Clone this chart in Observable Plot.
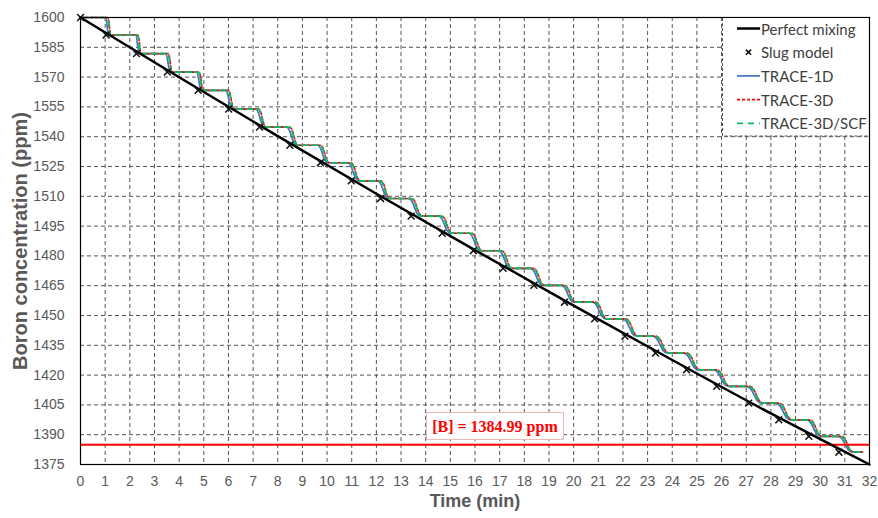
<!DOCTYPE html>
<html>
<head>
<meta charset="utf-8">
<script src="https://cdn.jsdelivr.net/npm/d3@7"></script>
<script src="https://cdn.jsdelivr.net/npm/@observablehq/plot@0.6"></script>
<style>
  html, body { margin: 0; padding: 0; background: white; }
  #wrap { position: relative; width: 878px; height: 518px; overflow: hidden; }
</style>
</head>
<body>
<div id="wrap"></div>
<script>
// ---------- data ----------
const xTicks = [0,1,2,3,4,5,6,7,8,9,10,11,12,13,14,15,16,17,18,19,20,21,22,23,24,25,26,27,28,29,30,31,32];
const yTicks = [1375,1390,1405,1420,1435,1450,1465,1480,1495,1510,1525,1540,1555,1570,1585,1600];

// Perfect mixing
const mixTime  = [0, 4, 8, 12, 16, 20, 24, 28, 32];
const mixBoron = [1600, 1569.9, 1540.3, 1511.3, 1482.9, 1455.0, 1427.6, 1400.7, 1375.0];

// Slug model
const slugTime  = [0, 1.04, 2.27, 3.52, 4.77, 6.01, 7.26, 8.49, 9.73, 10.98, 12.17, 13.41, 14.67, 15.93, 17.14, 18.39, 19.63, 20.85, 22.08, 23.32, 24.58, 25.80, 27.10, 28.32, 29.54, 30.76];
const slugBoron = [1600, 1591.2, 1581.8, 1572.5, 1563.3, 1553.9, 1544.8, 1535.7, 1526.9, 1517.8, 1508.9, 1500.0, 1491.4, 1482.6, 1473.7, 1465.2, 1456.7, 1448.3, 1439.6, 1431.1, 1422.7, 1414.3, 1405.9, 1397.5, 1389.2, 1381.2];

// TRACE plateau levels (one per plateau) and step start / end times
const traceLevels = [1600, 1591.2, 1581.8, 1572.5, 1563.3, 1553.9, 1544.8, 1535.7, 1526.9, 1517.8, 1508.9, 1500.0, 1491.4, 1482.6, 1473.7, 1465.2, 1456.7, 1448.3, 1439.6, 1431.1, 1422.7, 1414.3, 1405.9, 1397.5, 1389.2, 1381.4];
const traceEnd = 31.72;

const t1dStart = [1.01, 2.23, 3.45, 4.70, 5.88, 7.10, 8.35, 9.61, 10.83, 12.05, 13.30, 14.52, 15.74, 16.95, 18.25, 19.51, 20.77, 21.98, 23.20, 24.46, 25.67, 27.01, 28.19, 29.45, 30.74];
const t1dStop  = [1.15, 2.39, 3.65, 4.91, 6.16, 7.46, 8.76, 10.02, 11.28, 12.49, 13.79, 15.01, 16.22, 17.44, 18.74, 20.00, 21.29, 22.55, 23.81, 25.06, 26.28, 27.62, 28.80, 30.01, 31.27];

const t3dStart = [1.10, 2.32, 3.55, 4.80, 5.99, 7.21, 8.47, 9.72, 10.95, 12.16, 13.42, 14.64, 15.86, 17.07, 18.36, 19.62, 20.88, 22.10, 23.32, 24.57, 25.79, 27.12, 28.31, 29.56, 30.85];
const t3dStop  = [1.24, 2.47, 3.73, 4.99, 6.24, 7.54, 8.84, 10.10, 11.36, 12.57, 13.87, 15.09, 16.30, 17.52, 18.82, 20.08, 21.37, 22.63, 23.89, 25.14, 26.36, 27.70, 28.88, 30.09, 31.35];

const scfStart = [1.08, 2.30, 3.53, 4.78, 5.97, 7.19, 8.45, 9.70, 10.93, 12.14, 13.40, 14.62, 15.84, 17.05, 18.34, 19.60, 20.86, 22.08, 23.30, 24.55, 25.77, 27.10, 28.29, 29.54, 30.83];
const scfStop  = [1.22, 2.45, 3.71, 4.97, 6.22, 7.52, 8.82, 10.08, 11.34, 12.55, 13.85, 15.07, 16.28, 17.50, 18.80, 20.06, 21.35, 22.61, 23.87, 25.12, 26.34, 27.68, 28.86, 30.07, 31.33];

const limitBoron = 1384.99;
const limitLabel = "[B] = 1384.99 ppm";
const limitLabelAt = {t: 16.83, b: 1394.1};

const legendLabels = ["Perfect mixing", "Slug model", "TRACE-1D", "TRACE-3D", "TRACE-3D/SCF"];
const xLabel = "Time (min)";
const yLabel = "Boron concentration (ppm)";

// ---------- tables ----------
const mix  = mixTime.map((t, i) => ({t, b: mixBoron[i]}));
const slug = slugTime.map((t, i) => ({t, b: slugBoron[i]}));
function stairs(starts, stops) {
  const rows = [{t: 0, b: traceLevels[0]}];
  starts.forEach((s, k) => {
    rows.push({t: s, b: traceLevels[k]});
    rows.push({t: stops[k], b: traceLevels[k + 1]});
  });
  rows.push({t: traceEnd, b: traceLevels[traceLevels.length - 1]});
  return rows;
}
const t1d = stairs(t1dStart, t1dStop);
const t3d = stairs(t3dStart, t3dStop);
const scf = stairs(scfStart, scfStop);

const C = {blue: "#4472C4", red: "#FF0000", green: "#00C060"};
const traceCurve = {curve: "bump-x"};

const chart = Plot.plot({
  width: 878,
  height: 518,
  marginLeft: 80,
  marginRight: 9,
  marginTop: 17,
  marginBottom: 54,
  x: {domain: [0, 32]},
  y: {domain: [1375, 1600]},
  style: {fontFamily: "'Liberation Sans', Arial, sans-serif", background: "white"},
  marks: [
    Plot.gridX(xTicks, {stroke: "#555", strokeOpacity: 1, strokeDasharray: "4,3"}),
    Plot.gridY(yTicks, {stroke: "#555", strokeOpacity: 1, strokeDasharray: "4,3"}),
    Plot.axisX({ticks: xTicks, tickSize: 0, tickPadding: 12, fontSize: 14, color: "#595959", label: null, tickFormat: d => String(d)}),
    Plot.axisY({ticks: yTicks, tickSize: 0, tickPadding: 16, fontSize: 14, color: "#595959", label: null, tickFormat: d => String(d)}),
    Plot.line(t1d, {x: "t", y: "b", stroke: C.blue, strokeWidth: 1.7, ...traceCurve}),
    Plot.line(t3d, {x: "t", y: "b", stroke: C.red, strokeWidth: 1.7, strokeDasharray: "3,2", ...traceCurve}),
    Plot.line(scf, {x: "t", y: "b", stroke: C.green, strokeWidth: 1.7, strokeDasharray: "6,4", ...traceCurve}),
    Plot.ruleY([limitBoron], {stroke: C.red, strokeWidth: 2}),
    Plot.line(mix, {x: "t", y: "b", stroke: "black", strokeWidth: 2.5, curve: "natural"}),
    Plot.dot(slug, {x: "t", y: "b", symbol: "times", r: 3.2, stroke: "#111", strokeWidth: 1.5}),
    Plot.frame({stroke: "black", strokeWidth: 1.2}),
    Plot.text([xLabel], {frameAnchor: "bottom", dy: 42, fontSize: 18, fontWeight: "bold", fill: "#595959"}),
    Plot.text([yLabel], {frameAnchor: "left", dx: -60, rotate: -90, textAnchor: "middle", fontSize: 20, fontWeight: "bold", fill: "#595959"})
  ]
});

const wrap = document.getElementById("wrap");
wrap.appendChild(chart);

// ---------- annotation box ----------
const sx = chart.scale("x"), sy = chart.scale("y");
const ax = sx.apply(limitLabelAt.t), ay = sy.apply(limitLabelAt.b);
const note = document.createElement("div");
note.textContent = limitLabel;
Object.assign(note.style, {
  position: "absolute", left: (ax - 69) + "px", top: (ay - 14) + "px",
  width: "138px", height: "28px", lineHeight: "28px", textAlign: "center",
  background: "white", border: "1px solid #F2B8B8", boxSizing: "border-box",
  fontFamily: "'Liberation Serif', 'Times New Roman', serif", fontWeight: "bold",
  fontSize: "16px", color: C.red, whiteSpace: "nowrap"
});
wrap.appendChild(note);

// ---------- legend ----------
const ns = "http://www.w3.org/2000/svg";
const lg = document.createElementNS(ns, "svg");
lg.setAttribute("width", 146);
lg.setAttribute("height", 120);
Object.assign(lg.style, {position: "absolute", left: "722px", top: "18px"});
const bg = document.createElementNS(ns, "rect");
bg.setAttribute("x", 0.5); bg.setAttribute("y", -2); bg.setAttribute("width", 150); bg.setAttribute("height", 120);
bg.setAttribute("fill", "white"); bg.setAttribute("stroke", "#555"); bg.setAttribute("stroke-dasharray", "3,2");
lg.appendChild(bg);
const styles = [
  {type: "line", stroke: "black", w: 2.5, dash: null},
  {type: "x"},
  {type: "line", stroke: C.blue, w: 1.7, dash: null},
  {type: "line", stroke: C.red, w: 1.7, dash: "3,2"},
  {type: "line", stroke: C.green, w: 1.7, dash: "6,5"}
];
legendLabels.forEach((label, i) => {
  const cy = 10.5 + i * 23.7;
  const st = styles[i];
  if (st.type === "line") {
    const l = document.createElementNS(ns, "line");
    l.setAttribute("x1", 15); l.setAttribute("x2", 38);
    l.setAttribute("y1", cy); l.setAttribute("y2", cy);
    l.setAttribute("stroke", st.stroke); l.setAttribute("stroke-width", st.w);
    if (st.dash) l.setAttribute("stroke-dasharray", st.dash);
    lg.appendChild(l);
  } else {
    const p = document.createElementNS(ns, "path");
    const cx = 26.5, s = 2.6;
    p.setAttribute("d", `M${cx - s},${cy - s}L${cx + s},${cy + s}M${cx - s},${cy + s}L${cx + s},${cy - s}`);
    p.setAttribute("stroke", "#111"); p.setAttribute("stroke-width", 1.6);
    lg.appendChild(p);
  }
  const tx = document.createElementNS(ns, "text");
  tx.setAttribute("x", 39); tx.setAttribute("y", cy);
  tx.setAttribute("dominant-baseline", "central");
  tx.setAttribute("font-family", "Lato, 'Open Sans', sans-serif");
  tx.setAttribute("font-size", 15);
  tx.setAttribute("fill", "#404040");
  tx.textContent = label;
  lg.appendChild(tx);
});
wrap.appendChild(lg);
</script>
</body>
</html>
